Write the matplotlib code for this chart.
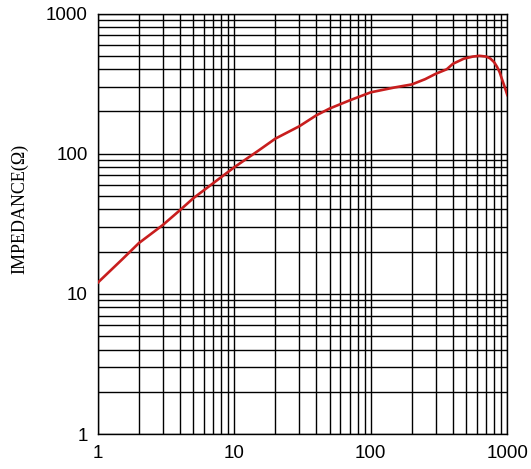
import matplotlib
matplotlib.use('Agg')
import matplotlib.pyplot as plt
from matplotlib.ticker import FixedLocator, NullFormatter, FixedFormatter

# frequency (x) and impedance (y)
freq = [1, 1.5, 2, 3, 4, 5, 7, 10, 15, 20, 30, 40, 50, 70, 100, 150, 200,
        250, 300, 360, 400, 480, 560, 625, 700, 750, 800, 840, 880, 910, 950, 1000]
impedance = [12, 17.5, 23, 31, 39.5, 48, 61.5, 80, 105, 128, 157, 188, 210,
             240, 274, 297, 312, 340, 372, 400, 438, 476, 493, 499, 493, 478,
             450, 417, 380, 344, 305, 262]

major_ticks = [1, 10, 100, 1000]
tick_labels = ['1', '10', '100', '1000']
ylabel = 'IMPEDANCE(\u03a9)'

fig = plt.figure(figsize=(5.31, 4.69), dpi=100)
ax = fig.add_axes([0.184, 0.0746, 0.7714, 0.8966])

ax.set_xscale('log')
ax.set_yscale('log')
ax.set_xlim(1, 1000)
ax.set_ylim(1, 1000)

ax.plot(freq, impedance, color='#c81e1e', linewidth=1.9, zorder=3,
        solid_joinstyle='round')

# grid at every 1..9 of each decade
minors = [m * 10 ** d for d in range(3) for m in range(2, 10)]
ax.xaxis.set_major_locator(FixedLocator(major_ticks))
ax.yaxis.set_major_locator(FixedLocator(major_ticks))
ax.xaxis.set_minor_locator(FixedLocator(minors))
ax.yaxis.set_minor_locator(FixedLocator(minors))
ax.xaxis.set_major_formatter(FixedFormatter(tick_labels))
ax.yaxis.set_major_formatter(FixedFormatter(tick_labels))
ax.xaxis.set_minor_formatter(NullFormatter())
ax.yaxis.set_minor_formatter(NullFormatter())
ax.grid(True, which='both', color='black', linewidth=1.0)

ax.tick_params(which='both', length=0)
ax.tick_params(axis='x', pad=8, labelsize=13.5)
ax.tick_params(axis='y', pad=7, labelsize=13.5)
for lab in ax.get_xticklabels() + ax.get_yticklabels():
    lab.set_family('Liberation Sans')

for s in ax.spines.values():
    s.set_color('black')
    s.set_linewidth(1.0)

ax.set_ylabel(ylabel, family='Liberation Serif', fontsize=13)
ax.yaxis.set_label_coords(-0.17, 0.535)

fig.savefig('out.png', dpi=100)
